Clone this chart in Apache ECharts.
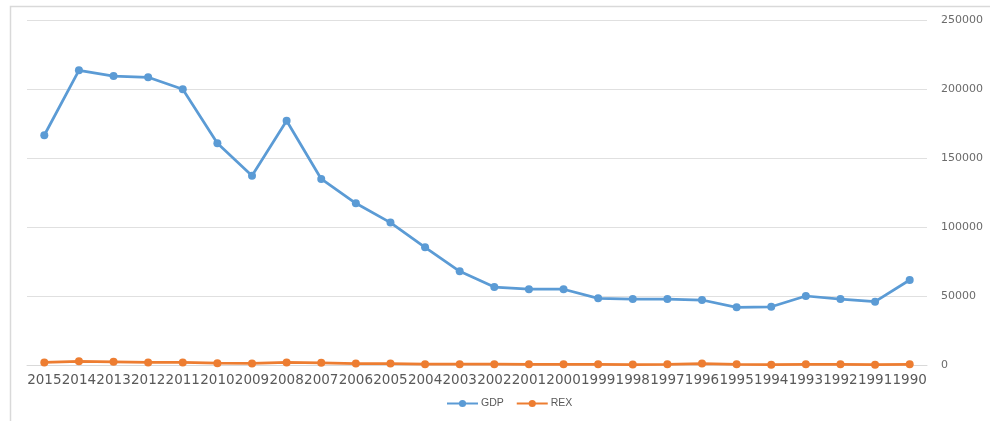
<!DOCTYPE html>
<html>
<head>
<meta charset="utf-8">
<title>GDP and REX, 1990–2015</title>
<script src="https://cdn.jsdelivr.net/npm/echarts@6/dist/echarts.min.js"></script>
<style>
  html, body { margin: 0; padding: 0; background: #ffffff; }
  #chart { width: 990px; height: 421px; }
</style>
</head>
<body>
<div id="chart"></div>
<script>
// Years, newest first (left to right)
const years = ['2015','2014','2013','2012','2011','2010','2009','2008','2007','2006','2005','2004','2003',
               '2002','2001','2000','1999','1998','1997','1996','1995','1994','1993','1992','1991','1990'];

// GDP series
const gdp = [166500, 213500, 209400, 208500, 199800, 160700, 137200, 177000, 134800, 117200, 103200, 85300, 67900,
             56500, 54900, 54900, 48300, 47800, 47800, 47100, 41800, 42200, 50000, 47800, 45900, 61600];

// REX series
const rex = [1900, 2700, 2300, 1900, 1900, 1300, 1100, 1900, 1600, 1000, 1000, 600, 600,
             600, 500, 500, 500, 300, 500, 1000, 500, 200, 500, 500, 200, 500];

// Value axis ticks
const yTicks = { min: 0, max: 250000, interval: 50000 };

const chart = echarts.init(document.getElementById('chart'), null, { renderer: 'canvas' });

chart.setOption({
  animation: false,
  backgroundColor: '#ffffff',
  graphic: [{
    // chart-area frame: left and top edges
    type: 'polyline',
    shape: { points: [[10.5, 430], [10.5, 6.5], [995, 6.5]] },
    style: { fill: 'none', stroke: '#d9d9d9', lineWidth: 1.5 },
    silent: true, z: -1
  }],
  grid: { left: 27, right: 63, top: 20, bottom: 56, containLabel: false },
  legend: {
    data: ['GDP', 'REX'],
    left: 441, top: 393,
    itemWidth: 31, itemHeight: 9, itemGap: 12,
    textStyle: { color: '#595959', fontFamily: 'Liberation Sans', fontSize: 10.5, padding: [0, 0, 0, -2] }
  },
  xAxis: {
    type: 'category',
    data: years,
    boundaryGap: true,
    axisLine: { show: true, lineStyle: { color: '#d9d9d9', width: 1 } },
    axisTick: { show: false },
    axisLabel: { interval: 0, margin: 8, color: '#595959', fontFamily: 'DejaVu Sans', fontSize: 13.5 },
    splitLine: { show: false }
  },
  yAxis: {
    type: 'value',
    position: 'right',
    min: yTicks.min, max: yTicks.max, interval: yTicks.interval,
    axisLine: { show: false },
    axisTick: { show: false },
    axisLabel: {
      margin: 14, color: '#6b6b6b', fontFamily: 'DejaVu Sans', fontSize: 11,
      formatter: v => String(v)
    },
    splitLine: { lineStyle: { color: '#e0e0e0', width: 1 } }
  },
  series: [
    {
      name: 'GDP', type: 'line', data: gdp,
      symbol: 'circle', symbolSize: 8,
      lineStyle: { color: '#5b9bd5', width: 2.75 },
      itemStyle: { color: '#5b9bd5' }
    },
    {
      name: 'REX', type: 'line', data: rex,
      symbol: 'circle', symbolSize: 8,
      lineStyle: { color: '#ed7d31', width: 2.75 },
      itemStyle: { color: '#ed7d31' }
    }
  ]
});
</script>
</body>
</html>
